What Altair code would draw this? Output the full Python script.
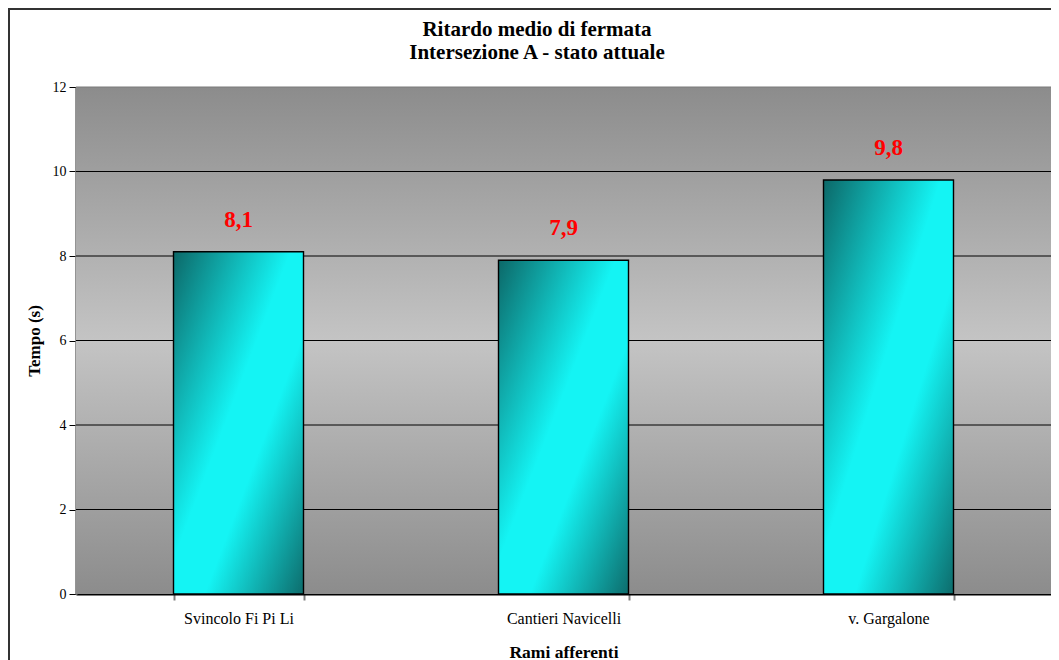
import altair as alt
import pandas as pd

title_lines = ["Ritardo medio di fermata", "Intersezione A - stato attuale"]
categories = ["Svincolo Fi Pi Li", "Cantieri Navicelli", "v. Gargalone"]
values = [8.1, 7.9, 9.8]
value_labels = ["8,1", "7,9", "9,8"]
y_ticks = [0, 2, 4, 6, 8, 10, 12]
grid_values = [2, 4, 6, 8, 10, 12]

df = pd.DataFrame({"ramo": categories, "tempo": values, "etichetta": value_labels})
grid_df = pd.DataFrame({"g": grid_values})
one = pd.DataFrame({"a": [0]})

W, H = 975, 507
FONT = "Liberation Serif"

x_scale = alt.Scale(domain=categories, paddingInner=0.6, paddingOuter=0.3)
y_scale = alt.Scale(domain=[0, 12], nice=False)

x_axis = alt.Axis(
    title="Rami afferenti", labelAngle=0, tickBand="extent", grid=False,
    labelFont=FONT, labelFontSize=16, labelColor="#000000", labelPadding=10,
    titleFont=FONT, titleFontSize=17.5, titleFontWeight="bold", titleColor="#000000",
    titlePadding=17, domainColor="#000000", domainWidth=2, tickColor="#808080",
    tickSize=6, tickWidth=2,
)
y_axis = alt.Axis(
    title="Tempo (s)", values=y_ticks, grid=False,
    labelFont=FONT, labelFontSize=14, labelColor="#000000", labelPadding=3,
    titleFont=FONT, titleFontSize=17, titleFontWeight="bold", titleColor="#000000",
    titlePadding=9, domainColor="#707070", domainWidth=2.5, tickColor="#000000",
    tickSize=7,
)

bg = alt.Chart(one).mark_rect(
    color=alt.LinearGradient(
        gradient="linear", x1=0, x2=0, y1=0, y2=1,
        stops=[
            alt.GradientStop(color="#8c8c8c", offset=0),
            alt.GradientStop(color="#c4c4c4", offset=0.5),
            alt.GradientStop(color="#8c8c8c", offset=1),
        ],
    )
).encode(x=alt.value(0), x2=alt.value(W), y=alt.value(0), y2=alt.value(H))

grid = alt.Chart(grid_df).mark_rule(strokeWidth=1).encode(
    y=alt.Y("g:Q", scale=y_scale, axis=y_axis),
    x=alt.value(0), x2=alt.value(W),
    color=alt.condition(alt.datum.g == 12, alt.value("#7a7a7a"), alt.value("#000000")),
)

bars = alt.Chart(df).mark_bar(
    color=alt.LinearGradient(
        gradient="linear", x1=0, x2=1, y1=0, y2=1,
        stops=[
            alt.GradientStop(color="#0c6868", offset=0),
            alt.GradientStop(color="#14f4f4", offset=0.45),
            alt.GradientStop(color="#14f4f4", offset=0.62),
            alt.GradientStop(color="#0d6c6c", offset=1),
        ],
    ),
    stroke="#000000", strokeWidth=1.4,
).encode(
    x=alt.X("ramo:N", scale=x_scale, axis=x_axis),
    y=alt.Y("tempo:Q", scale=y_scale, axis=y_axis),
)

labels = alt.Chart(df).mark_text(
    font=FONT, fontSize=23, fontWeight="bold", color="#ff0000",
    baseline="alphabetic", dy=-25,
).encode(
    x=alt.X("ramo:N", scale=x_scale, axis=x_axis),
    y=alt.Y("tempo:Q", scale=y_scale, axis=y_axis),
    text="etichetta:N",
)

title_df = pd.DataFrame({"t": title_lines, "i": [0, 1]})
title1 = alt.Chart(title_df).transform_filter(alt.datum.i == 0).mark_text(
    font=FONT, fontSize=21, fontWeight="bold", color="#000000",
    align="center", baseline="middle",
).encode(x=alt.value(461), y=alt.value(-57), text="t:N")
title2 = alt.Chart(title_df).transform_filter(alt.datum.i == 1).mark_text(
    font=FONT, fontSize=21, fontWeight="bold", color="#000000",
    align="center", baseline="middle",
).encode(x=alt.value(461), y=alt.value(-34), text="t:N")

border = alt.Chart(one).mark_rect(
    fillOpacity=0, stroke="#333333", strokeWidth=2,
).encode(x=alt.value(-67), x2=alt.value(W + 40), y=alt.value(-78), y2=alt.value(H + 200))

chart = alt.layer(bg, grid, bars, labels, title1, title2, border).properties(
    width=W, height=H,
    autosize=alt.AutoSizeParams(type="none"),
    padding={"left": 68, "top": 79, "right": 0, "bottom": 68},
    background="#ffffff",
).configure_view(stroke=None)

chart.save("out.html", embed_options={"renderer": "svg", "actions": False})
